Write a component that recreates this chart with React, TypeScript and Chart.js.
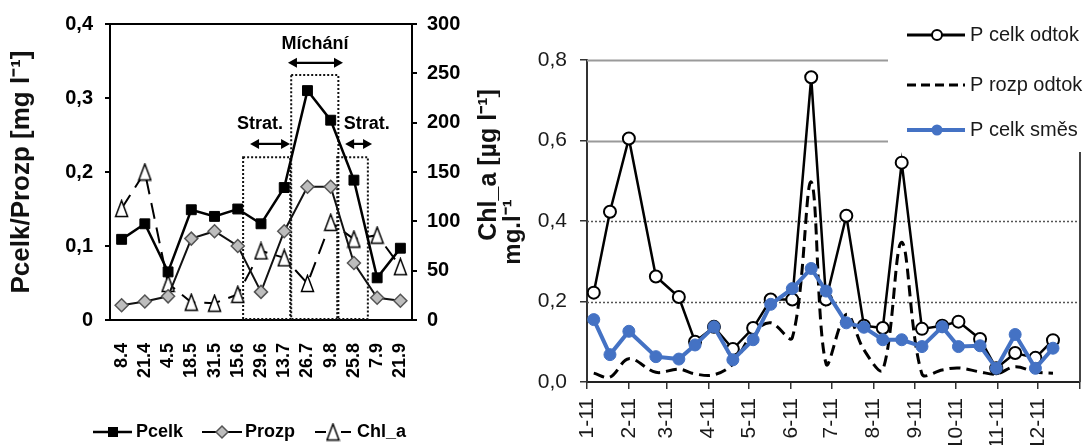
import React, { useEffect, useRef } from "react";
import { Chart, registerables } from "chart.js";

Chart.register(...registerables);

// ---------------- Left chart data ----------------
const sampleDates = ["8.4", "21.4", "4.5", "18.5", "31.5", "15.6", "29.6", "13.7", "26.7", "9.8", "25.8", "7.9", "21.9"];
const pcelk = [0.109, 0.13, 0.065, 0.149, 0.14, 0.15, 0.13, 0.179, 0.31, 0.27, 0.189, 0.057, 0.097];
const prozp = [0.02, 0.025, 0.032, 0.11, 0.12, 0.1, 0.038, 0.12, 0.18, 0.18, 0.077, 0.03, 0.026];
const chlA = [113, 150, 37, 18, 17, 26, 70, 63, 37, 99, 82, 86, 54];
const leftYTickLabels = ["0", "0,1", "0,2", "0,3", "0,4"];
const chlTickLabels = ["0", "50", "100", "150", "200", "250", "300"];

// ---------------- Right chart data ----------------
const sampleDays = [5, 17, 31, 51, 68, 80, 94, 108, 123, 136, 152, 166, 177, 192, 205, 219, 233, 248, 263, 275, 291, 303, 317, 332, 345];
const pCelkOdtok = [0.222, 0.423, 0.605, 0.262, 0.211, 0.1, 0.137, 0.082, 0.134, 0.205, 0.205, 0.757, 0.205, 0.413, 0.14, 0.134, 0.545, 0.132, 0.14, 0.15, 0.107, 0.034, 0.072, 0.06, 0.104];
const pRozpOdtok = [0.022, 0.012, 0.058, 0.024, 0.032, 0.02, 0.018, 0.045, 0.122, 0.147, 0.11, 0.497, 0.045, 0.168, 0.08, 0.03, 0.347, 0.02, 0.03, 0.035, 0.025, 0.02, 0.038, 0.025, 0.022];
const pCelkSmes = [0.155, 0.068, 0.126, 0.063, 0.057, 0.092, 0.137, 0.055, 0.105, 0.193, 0.232, 0.282, 0.226, 0.147, 0.136, 0.105, 0.105, 0.088, 0.137, 0.088, 0.09, 0.034, 0.118, 0.034, 0.084];
const monthStartDays = [0, 31, 59, 90, 120, 151, 181, 212, 243, 273, 304, 334, 365];
const monthLabels = ["1-11", "2-11", "3-11", "4-11", "5-11", "6-11", "7-11", "8-11", "9-11", "10-11", "11-11", "12-11", ""];
const rightYTickLabels = ["0,0", "0,2", "0,4", "0,6", "0,8"];

// ---------------- Annotations (left chart, in category-index / value units) ----------------
const phaseBoxes = [
  { from: 5.23, to: 7.26, top: 0.22 },
  { from: 7.3, to: 9.33, top: 0.331 },
  { from: 9.28, to: 10.6, top: 0.22 },
];
const phaseLabels = [
  { text: "Strat.", at: 5.96, y: 0.265, arrowFrom: 5.53, arrowTo: 7.25, arrowY: 0.238 },
  { text: "Míchání", at: 8.32, y: 0.373, arrowFrom: 7.16, arrowTo: 9.53, arrowY: 0.3475 },
  { text: "Strat.", at: 10.55, y: 0.265, arrowFrom: 9.62, arrowTo: 10.78, arrowY: 0.238 },
];

function makeTriangle(w: number, h: number, lw: number) {
  const c = document.createElement("canvas");
  c.width = Math.ceil(w + lw * 2);
  c.height = Math.ceil(h + lw * 2);
  const g = c.getContext("2d")!;
  g.beginPath();
  g.moveTo(c.width / 2, lw);
  g.lineTo(c.width - lw, c.height - lw);
  g.lineTo(lw, c.height - lw);
  g.closePath();
  g.fillStyle = "#fff";
  g.fill();
  g.lineWidth = lw;
  g.strokeStyle = "#000";
  g.stroke();
  return c;
}

function doubleArrow(ctx: CanvasRenderingContext2D, x0: number, x1: number, y: number) {
  const head = 9;
  const half = 5;
  ctx.beginPath();
  ctx.moveTo(x0 + head - 1, y);
  ctx.lineTo(x1 - head + 1, y);
  ctx.stroke();
  ctx.beginPath();
  ctx.moveTo(x0, y);
  ctx.lineTo(x0 + head, y - half);
  ctx.lineTo(x0 + head, y + half);
  ctx.closePath();
  ctx.fill();
  ctx.beginPath();
  ctx.moveTo(x1, y);
  ctx.lineTo(x1 - head, y - half);
  ctx.lineTo(x1 - head, y + half);
  ctx.closePath();
  ctx.fill();
}

export default function App() {
  const leftRef = useRef<HTMLCanvasElement>(null);
  const rightRef = useRef<HTMLCanvasElement>(null);

  useEffect(() => {
    const REG = `"Liberation Sans", Arial, sans-serif`;
    const tri = makeTriangle(12, 16, 1.5);

    const leftPlugin = {
      id: "leftAnnotations",
      beforeDatasetsDraw(chart: any) {
        const { ctx, scales } = chart;
        const x = scales.x;
        const y = scales.y;
        ctx.save();
        ctx.strokeStyle = "#111";
        ctx.lineWidth = 2;
        ctx.setLineDash([2, 2]);
        for (const b of phaseBoxes) {
          const x0 = x.getPixelForValue(b.from);
          const x1 = x.getPixelForValue(b.to);
          const yt = y.getPixelForValue(b.top);
          const yb = y.getPixelForValue(0) - 1;
          ctx.strokeRect(x0, yt, x1 - x0, yb - yt);
        }
        ctx.setLineDash([]);
        ctx.fillStyle = "#000";
        ctx.strokeStyle = "#000";
        ctx.lineWidth = 2.2;
        ctx.font = `bold 18px ${REG}`;
        ctx.textAlign = "center";
        ctx.textBaseline = "middle";
        for (const l of phaseLabels) {
          ctx.fillText(l.text, x.getPixelForValue(l.at), y.getPixelForValue(l.y));
          doubleArrow(ctx, x.getPixelForValue(l.arrowFrom), x.getPixelForValue(l.arrowTo), y.getPixelForValue(l.arrowY));
        }
        ctx.restore();
      },
      afterDraw(chart: any) {
        const { ctx, chartArea } = chart;
        ctx.save();
        // right axis title (reads bottom to top)
        ctx.translate(chartArea.right + 77, (chartArea.top + chartArea.bottom) / 2 - 7);
        ctx.rotate(-Math.PI / 2);
        ctx.font = `bold 25px ${REG}`;
        ctx.fillStyle = "#111";
        ctx.textAlign = "center";
        ctx.textBaseline = "middle";
        ctx.fillText("Chl_a [µg l⁻¹]", 0, 0);
        ctx.restore();

        // legend
        const ly = 432;
        ctx.save();
        ctx.font = `bold 18px ${REG}`;
        ctx.textBaseline = "middle";
        ctx.textAlign = "left";
        ctx.fillStyle = "#000";
        ctx.strokeStyle = "#000";
        // Pcelk
        ctx.lineWidth = 2.5;
        ctx.beginPath();
        ctx.moveTo(93, ly);
        ctx.lineTo(132, ly);
        ctx.stroke();
        ctx.fillRect(108, ly - 5, 10, 10);
        ctx.fillText("Pcelk", 136, ly);
        // Prozp
        ctx.lineWidth = 2;
        ctx.beginPath();
        ctx.moveTo(202, ly);
        ctx.lineTo(242, ly);
        ctx.stroke();
        ctx.beginPath();
        ctx.moveTo(222 - 6, ly);
        ctx.lineTo(222, ly - 6);
        ctx.lineTo(222 + 6, ly);
        ctx.lineTo(222, ly + 6);
        ctx.closePath();
        ctx.fillStyle = "#bdbdbd";
        ctx.fill();
        ctx.strokeStyle = "#555";
        ctx.lineWidth = 1.5;
        ctx.stroke();
        ctx.fillStyle = "#000";
        ctx.strokeStyle = "#000";
        ctx.fillText("Prozp", 245, ly);
        // Chl_a
        ctx.lineWidth = 2;
        ctx.beginPath();
        ctx.moveTo(315, ly);
        ctx.lineTo(326, ly);
        ctx.moveTo(341, ly);
        ctx.lineTo(351, ly);
        ctx.stroke();
        ctx.drawImage(tri, 333 - tri.width / 2, ly - tri.height / 2);
        ctx.fillText("Chl_a", 357, ly);
        ctx.restore();
      },
    };

    const left = new Chart(leftRef.current!, {
      type: "line",
      data: {
        labels: sampleDates,
        datasets: [
          {
            label: "Pcelk",
            data: pcelk,
            yAxisID: "y",
            borderColor: "#000",
            borderWidth: 2.5,
            pointStyle: "rect",
            pointRadius: 7,
            pointBackgroundColor: "#000",
            pointBorderColor: "#000",
            pointBorderWidth: 1,
            order: 0,
          },
          {
            label: "Prozp",
            data: prozp,
            yAxisID: "y",
            borderColor: "#111",
            borderWidth: 2,
            pointStyle: "rectRot",
            pointRadius: 6.5,
            pointBackgroundColor: "#bdbdbd",
            pointBorderColor: "#555",
            pointBorderWidth: 1.5,
            order: 1,
          },
          {
            label: "Chl_a",
            data: chlA,
            yAxisID: "y1",
            borderColor: "#000",
            borderWidth: 2,
            borderDash: [16, 9],
            pointStyle: tri as any,
            pointRadius: 8,
            order: 2,
          },
        ],
      },
      options: {
        responsive: false,
        animation: false,
        events: [],
        layout: { padding: { left: 6, right: 0, top: 23, bottom: 0 } },
        plugins: { legend: { display: false }, tooltip: { enabled: false } },
        scales: {
          x: {
            type: "category",
            offset: true,
            grid: { display: false, drawTicks: false },
            border: { display: true, color: "#000", width: 2 },
            ticks: {
              autoSkip: false,
              minRotation: 90,
              maxRotation: 90,
              padding: 23,
              color: "#000",
              font: { family: REG, size: 18, weight: "bold" },
            },
            afterFit: (s: any) => {
              s.height = 125;
              s.paddingLeft = 0;
              s.paddingRight = 0;
            },
          },
          y: {
            type: "linear",
            position: "left",
            min: 0,
            max: 0.4,
            ticks: {
              stepSize: 0.1,
              padding: 12,
              color: "#000",
              font: { family: REG, size: 20, weight: "bold" },
              callback: (_v: any, i: number) => leftYTickLabels[i],
            },
            grid: {
              color: (c: any) => (c.tick && Math.abs(c.tick.value - 0.4) < 1e-6 ? "#000" : "rgba(0,0,0,0)"),
              tickColor: "#000",
              lineWidth: 2,
              tickLength: 5,
            },
            border: { display: true, color: "#000", width: 2 },
            title: {
              display: true,
              text: "Pcelk/Prozp [mg l⁻¹]",
              color: "#111",
              padding: 0,
              font: { family: REG, size: 26, weight: "bold" },
            },
            afterFit: (s: any) => {
              s.width = 104;
            },
          },
          y1: {
            type: "linear",
            position: "right",
            min: 0,
            max: 300,
            ticks: {
              stepSize: 50,
              padding: 10,
              color: "#000",
              font: { family: REG, size: 20, weight: "bold" },
              callback: (_v: any, i: number) => chlTickLabels[i],
            },
            grid: { drawOnChartArea: false, tickColor: "#000", lineWidth: 2, tickLength: 5 },
            border: { display: true, color: "#000", width: 2 },
            afterFit: (s: any) => {
              s.width = 88;
            },
          },
        },
      },
      plugins: [leftPlugin],
    } as any);

    const gridStyles = [
      { value: 0.2, color: "#555", width: 1.5, dash: [2, 2] },
      { value: 0.4, color: "#555", width: 1.5, dash: [2, 2] },
      { value: 0.6, color: "#9a9a9a", width: 2, dash: [] as number[] },
      { value: 0.8, color: "#9a9a9a", width: 2, dash: [] as number[] },
    ];

    const rightPlugin = {
      id: "rightDecor",
      beforeDatasetsDraw(chart: any) {
        const { ctx, chartArea, scales } = chart;
        ctx.save();
        for (const g of gridStyles) {
          const py = Math.round(scales.y.getPixelForValue(g.value)) + 0.5;
          ctx.strokeStyle = g.color;
          ctx.lineWidth = g.width;
          ctx.setLineDash(g.dash);
          ctx.beginPath();
          ctx.moveTo(chartArea.left, py);
          ctx.lineTo(chartArea.right, py);
          ctx.stroke();
        }
        ctx.setLineDash([]);
        ctx.strokeStyle = "#444";
        ctx.lineWidth = 2;
        ctx.beginPath();
        ctx.moveTo(chartArea.right, chartArea.top);
        ctx.lineTo(chartArea.right, chartArea.bottom);
        ctx.stroke();
        ctx.restore();
      },
      afterDraw(chart: any) {
        const { ctx } = chart;
        ctx.save();
        // y-axis title (reads bottom to top)
        ctx.save();
        ctx.translate(15, 232);
        ctx.rotate(-Math.PI / 2);
        ctx.font = `bold 24px ${REG}`;
        ctx.fillStyle = "#111";
        ctx.textAlign = "center";
        ctx.textBaseline = "middle";
        ctx.fillText("mg.l⁻¹", 0, 0);
        ctx.restore();

        ctx.fillStyle = "#fff";
        ctx.fillRect(390, 0, 201, 152);
        const x0 = 409;
        const x1 = 467;
        const mx = 439;
        const tx = 472;
        ctx.font = `20px ${REG}`;
        ctx.textAlign = "left";
        ctx.textBaseline = "middle";
        // P celk odtok
        ctx.strokeStyle = "#000";
        ctx.lineWidth = 3;
        ctx.beginPath();
        ctx.moveTo(x0, 35);
        ctx.lineTo(x1, 35);
        ctx.stroke();
        ctx.beginPath();
        ctx.arc(mx, 35, 5, 0, Math.PI * 2);
        ctx.fillStyle = "#fff";
        ctx.fill();
        ctx.lineWidth = 2;
        ctx.stroke();
        ctx.fillStyle = "#1a1a1a";
        ctx.fillText("P celk odtok", tx, 35);
        // P rozp odtok
        ctx.lineWidth = 3;
        ctx.setLineDash([9, 5]);
        ctx.beginPath();
        ctx.moveTo(x0, 85);
        ctx.lineTo(x1, 85);
        ctx.stroke();
        ctx.setLineDash([]);
        ctx.fillText("P rozp odtok", tx, 85);
        // P celk směs
        ctx.strokeStyle = "#4472c4";
        ctx.lineWidth = 4;
        ctx.beginPath();
        ctx.moveTo(x0, 130);
        ctx.lineTo(x1, 130);
        ctx.stroke();
        ctx.beginPath();
        ctx.arc(mx, 130, 5.5, 0, Math.PI * 2);
        ctx.fillStyle = "#4472c4";
        ctx.fill();
        ctx.fillStyle = "#1a1a1a";
        ctx.fillText("P celk směs", tx, 130);
        ctx.restore();
      },
    };

    const toPoints = (arr: number[]) => sampleDays.map((d, i) => ({ x: d, y: arr[i] }));

    const right = new Chart(rightRef.current!, {
      type: "line",
      data: {
        datasets: [
          {
            label: "P celk směs",
            data: toPoints(pCelkSmes),
            borderColor: "#4472c4",
            borderWidth: 4,
            pointRadius: 6,
            pointBackgroundColor: "#4472c4",
            pointBorderColor: "#4472c4",
            pointBorderWidth: 1,
            order: 0,
          },
          {
            label: "P celk odtok",
            data: toPoints(pCelkOdtok),
            borderColor: "#000",
            borderWidth: 2.5,
            pointRadius: 6,
            pointBackgroundColor: "#fff",
            pointBorderColor: "#000",
            pointBorderWidth: 2,
            order: 1,
          },
          {
            label: "P rozp odtok",
            data: toPoints(pRozpOdtok),
            borderColor: "#000",
            borderWidth: 3,
            borderDash: [11, 6],
            tension: 0.35,
            pointRadius: 0,
            order: 2,
          },
        ],
      },
      options: {
        responsive: false,
        animation: false,
        events: [],
        layout: { padding: { left: 0, right: 9, top: 60, bottom: 0 } },
        plugins: { legend: { display: false }, tooltip: { enabled: false } },
        scales: {
          x: {
            type: "linear",
            min: 0,
            max: 365,
            afterBuildTicks: (s: any) => {
              s.ticks = monthStartDays.map((v) => ({ value: v }));
            },
            ticks: {
              autoSkip: false,
              minRotation: 90,
              maxRotation: 90,
              padding: 9,
              color: "#1a1a1a",
              font: { family: REG, size: 21 },
              callback: (_v: any, i: number) => monthLabels[i],
            },
            grid: { drawOnChartArea: false, tickColor: "#333", lineWidth: 1.5, tickLength: 7 },
            border: { display: true, color: "#222", width: 2 },
            afterFit: (s: any) => {
              s.height = 63;
              s.paddingLeft = 0;
              s.paddingRight = 0;
            },
          },
          y: {
            type: "linear",
            min: 0,
            max: 0.8,
            ticks: {
              stepSize: 0.2,
              padding: 13,
              color: "#1a1a1a",
              font: { family: REG, size: 21 },
              callback: (_v: any, i: number) => rightYTickLabels[i],
            },
            grid: { drawOnChartArea: false, tickColor: "#333", lineWidth: 1.5, tickLength: 7 },
            border: { display: true, color: "#333", width: 2 },
            afterFit: (s: any) => {
              s.width = 89;
            },
          },
        },
      },
      plugins: [rightPlugin],
    } as any);

    return () => {
      left.destroy();
      right.destroy();
    };
  }, []);

  return (
    <div style={{ position: "fixed", left: 0, top: 0, width: 1089, height: 445, background: "#fff", overflow: "hidden" }}>
      <canvas ref={leftRef} width={500} height={445} style={{ position: "absolute", left: 0, top: 0, width: 500, height: 445 }} />
      <canvas ref={rightRef} width={591} height={445} style={{ position: "absolute", left: 498, top: 0, width: 591, height: 445 }} />
    </div>
  );
}
